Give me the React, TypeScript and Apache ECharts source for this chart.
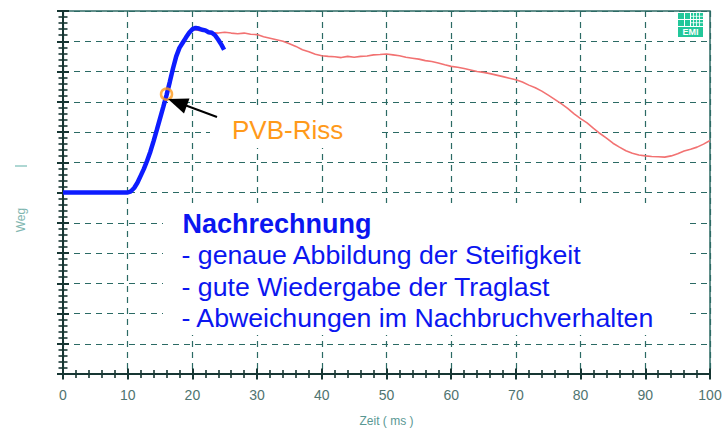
import React, { useEffect, useRef } from "react";
import * as echarts from "echarts";

const xTicks = [0, 10, 20, 30, 40, 50, 60, 70, 80, 90, 100];

const blueX = [0, 10, 10.5, 11, 11.5, 12, 12.5, 13, 13.5, 14, 14.5, 15, 15.5, 16, 16.5, 17, 17.5, 18, 18.5, 19, 19.5, 20, 20.5, 21, 21.5, 22, 22.5, 23, 23.5, 24, 24.5, 24.9];
const blueY = [6, 6, 6.04, 6.15, 6.32, 6.55, 6.78, 7.05, 7.35, 7.7, 8.07, 8.45, 8.83, 9.22, 9.65, 10.1, 10.5, 10.78, 10.95, 11.12, 11.28, 11.4, 11.44, 11.42, 11.38, 11.36, 11.3, 11.28, 11.2, 11.05, 10.88, 10.72];

const redX = [20, 21, 22, 23, 24, 25, 26, 27, 28, 29, 30, 31, 32, 33, 34, 35, 36, 37, 38, 39, 40, 41, 42, 43, 44, 45, 46, 47, 48, 49, 50, 51, 52, 53, 54, 55, 56, 57, 58, 59, 60, 61, 62, 63, 64, 65, 66, 67, 68, 69, 70, 71, 72, 73, 74, 75, 76, 77, 78, 79, 80, 81, 82, 83, 84, 85, 86, 87, 88, 89, 90, 91, 92, 93, 94, 95, 96, 97, 98, 99, 100];
const redY = [11.4, 11.36, 11.33, 11.29, 11.27, 11.3, 11.27, 11.25, 11.27, 11.23, 11.22, 11.15, 11.1, 11.05, 11.0, 10.92, 10.83, 10.72, 10.65, 10.57, 10.52, 10.5, 10.49, 10.46, 10.5, 10.47, 10.5, 10.51, 10.55, 10.56, 10.58, 10.55, 10.52, 10.47, 10.44, 10.41, 10.36, 10.33, 10.28, 10.22, 10.17, 10.14, 10.1, 10.05, 10.0, 9.97, 9.93, 9.88, 9.83, 9.78, 9.73, 9.65, 9.55, 9.46, 9.35, 9.22, 9.08, 8.94, 8.78, 8.6, 8.44, 8.3, 8.12, 7.95, 7.8, 7.63, 7.5, 7.38, 7.3, 7.24, 7.21, 7.19, 7.18, 7.17, 7.21, 7.28, 7.37, 7.43, 7.5, 7.6, 7.72];

const pvbPoint = [16, 9.25];

const xAxisName = "Zeit ( ms )";
const yAxisName = "Weg";
const pvbLabel = "PVB-Riss";
const noteTitle = "Nachrechnung";
const noteLines = [
  "- genaue Abbildung der Steifigkeit",
  "- gute Wiedergabe der Traglast",
  "- Abweichungen im Nachbruchverhalten",
];

const FONT = "'Liberation Sans', Arial, sans-serif";
const GRIDC = "#2b6a64";
const AXISC = "#173633";
const LABELC = "#4f7470";
const LOGO = "#22c79a";

export default function App() {
  const ref = useRef<HTMLDivElement>(null);
  useEffect(() => {
    document.body.style.margin = "0";
    const chart = echarts.init(ref.current!, undefined, { renderer: "svg" });

    const baseX = {
      type: "value" as const,
      min: 0,
      max: 100,
      interval: 10,
    };
    const baseY = {
      type: "value" as const,
      min: 0,
      max: 12,
      interval: 1,
    };

    const noteYs = [255.1, 287.4, 317.5];

    const option: any = {
      animation: false,
      backgroundColor: "#ffffff",
      grid: {
        left: 63,
        right: 15,
        top: 11,
        bottom: 50,
        show: true,
        borderColor: "#2f6b66",
        borderWidth: 1.5,
        backgroundColor: "transparent",
      },
      xAxis: [
        {
          ...baseX,
          name: xAxisName,
          nameLocation: "middle",
          nameGap: 41,
          nameTextStyle: { color: "#5a9893", fontSize: 12, fontFamily: FONT },
          axisLine: { show: true, onZero: false, lineStyle: { color: AXISC, width: 2 } },
          axisTick: { show: true, length: 5.5, inside: false, lineStyle: { color: AXISC, width: 2 } },
          minorTick: { show: true, splitNumber: 5, length: 4, lineStyle: { color: AXISC, width: 1.6 } },
          axisLabel: { color: LABELC, fontSize: 14, fontFamily: FONT, margin: 14, customValues: xTicks },
          splitLine: { show: true, lineStyle: { color: GRIDC, width: 1.2, type: [6, 5] } },
        },
        {
          ...baseX,
          position: "bottom",
          axisLine: { show: false },
          axisTick: { show: true, length: 5.5, inside: true, lineStyle: { color: AXISC, width: 2 } },
          minorTick: { show: true, splitNumber: 5, length: 4, lineStyle: { color: AXISC, width: 1.6 } },
          axisLabel: { show: false },
          splitLine: { show: false },
        },
      ],
      yAxis: [
        {
          ...baseY,
          axisLine: { show: true, onZero: false, lineStyle: { color: AXISC, width: 2 } },
          axisTick: { show: true, length: 6, inside: false, lineStyle: { color: AXISC, width: 2 } },
          minorTick: { show: true, splitNumber: 5, length: 4.5, lineStyle: { color: AXISC, width: 1.6 } },
          axisLabel: { show: false },
          splitLine: { show: true, lineStyle: { color: GRIDC, width: 1.2, type: [6, 5] } },
        },
        {
          ...baseY,
          position: "left",
          axisLine: { show: false },
          axisTick: { show: true, length: 6, inside: true, lineStyle: { color: AXISC, width: 2 } },
          minorTick: { show: true, splitNumber: 5, length: 4.5, lineStyle: { color: AXISC, width: 1.6 } },
          axisLabel: { show: false },
          splitLine: { show: false },
        },
      ],
      series: [
        {
          type: "line",
          name: "Versuch",
          data: redX.map((x, i) => [x, redY[i]]),
          showSymbol: false,
          lineStyle: { color: "#f27272", width: 1.6 },
          z: 3,
        },
        {
          type: "line",
          name: "Nachrechnung",
          data: blueX.map((x, i) => [x, blueY[i]]),
          showSymbol: false,
          lineStyle: { color: "#0d1cff", width: 4.5 },
          z: 4,
        },
        {
          type: "scatter",
          name: "PVB",
          data: [pvbPoint],
          symbol: "circle",
          symbolSize: 11,
          itemStyle: { color: "rgba(0,0,0,0)", borderColor: "#ff9a1a", borderWidth: 2.5 },
          z: 5,
        },
      ],
      graphic: [
        { type: "rect", shape: { x: 163, y: 203, width: 522, height: 132 }, style: { fill: "#ffffff" }, z: 1 },
        { type: "rect", shape: { x: 210, y: 106, width: 170, height: 42 }, style: { fill: "#ffffff" }, z: 1 },
        {
          type: "text", x: 182.5, y: 223.6, z: 10,
          style: { text: noteTitle, fill: "#0b16f0", fontSize: 27, fontWeight: "bold", fontFamily: FONT, verticalAlign: "middle", align: "left" },
        },
        ...noteLines.map((t, i) => ({
          type: "text", x: 181.5, y: noteYs[i], z: 10,
          style: { text: t, fill: "#0b16f0", fontSize: 26.7, fontFamily: FONT, verticalAlign: "middle", align: "left" },
        })),
        {
          type: "text", x: 232, y: 129.5, z: 10,
          style: { text: pvbLabel, fill: "#ff9a1a", fontSize: 26, fontFamily: FONT, verticalAlign: "middle", align: "left" },
        },
        { type: "line", shape: { x1: 186, y1: 105.5, x2: 217, y2: 117 }, style: { stroke: "#000000", lineWidth: 2 }, z: 10 },
        { type: "polygon", shape: { points: [[168, 99], [184, 113.4], [189.5, 98.4]] }, style: { fill: "#000000" }, z: 10 },
        {
          type: "text", x: 21, y: 220, rotation: Math.PI / 2, z: 10,
          style: { text: yAxisName, fill: "#7fb6b0", fontSize: 12, fontFamily: FONT, align: "center", verticalAlign: "middle" },
        },
        { type: "rect", shape: { x: 15, y: 165.3, width: 12, height: 1.4 }, style: { fill: "#8cc6c0" }, z: 10 },
        // EMI logo
        { type: "rect", shape: { x: 678, y: 13, width: 25, height: 13 }, style: { fill: LOGO }, z: 10 },
        { type: "line", shape: { x1: 684.5, y1: 13, x2: 684.5, y2: 26 }, style: { stroke: "#ffffff", lineWidth: 1 }, z: 11 },
        { type: "line", shape: { x1: 690.5, y1: 13, x2: 690.5, y2: 26 }, style: { stroke: "#ffffff", lineWidth: 1 }, z: 11 },
        { type: "line", shape: { x1: 693.5, y1: 13, x2: 693.5, y2: 26 }, style: { stroke: "#ffffff", lineWidth: 0.8 }, z: 11 },
        { type: "line", shape: { x1: 696.5, y1: 13, x2: 696.5, y2: 26 }, style: { stroke: "#ffffff", lineWidth: 0.8 }, z: 11 },
        { type: "line", shape: { x1: 699.5, y1: 13, x2: 699.5, y2: 26 }, style: { stroke: "#ffffff", lineWidth: 0.8 }, z: 11 },
        { type: "line", shape: { x1: 678, y1: 19.5, x2: 703, y2: 19.5 }, style: { stroke: "#ffffff", lineWidth: 1 }, z: 11 },
        { type: "line", shape: { x1: 690.5, y1: 16.3, x2: 703, y2: 16.3 }, style: { stroke: "#ffffff", lineWidth: 0.8 }, z: 11 },
        { type: "line", shape: { x1: 690.5, y1: 22.7, x2: 703, y2: 22.7 }, style: { stroke: "#ffffff", lineWidth: 0.8 }, z: 11 },
        { type: "rect", shape: { x: 678, y: 27, width: 25, height: 10 }, style: { fill: LOGO }, z: 10 },
        {
          type: "text", x: 690.5, y: 32.3, z: 11,
          style: { text: "EMI", fill: "#ffffff", fontSize: 9, fontWeight: "bold", fontFamily: FONT, align: "center", verticalAlign: "middle" },
        },
      ],
    };
    chart.setOption(option);
    return () => chart.dispose();
  }, []);
  return <div ref={ref} style={{ width: 725, height: 432 }} />;
}
